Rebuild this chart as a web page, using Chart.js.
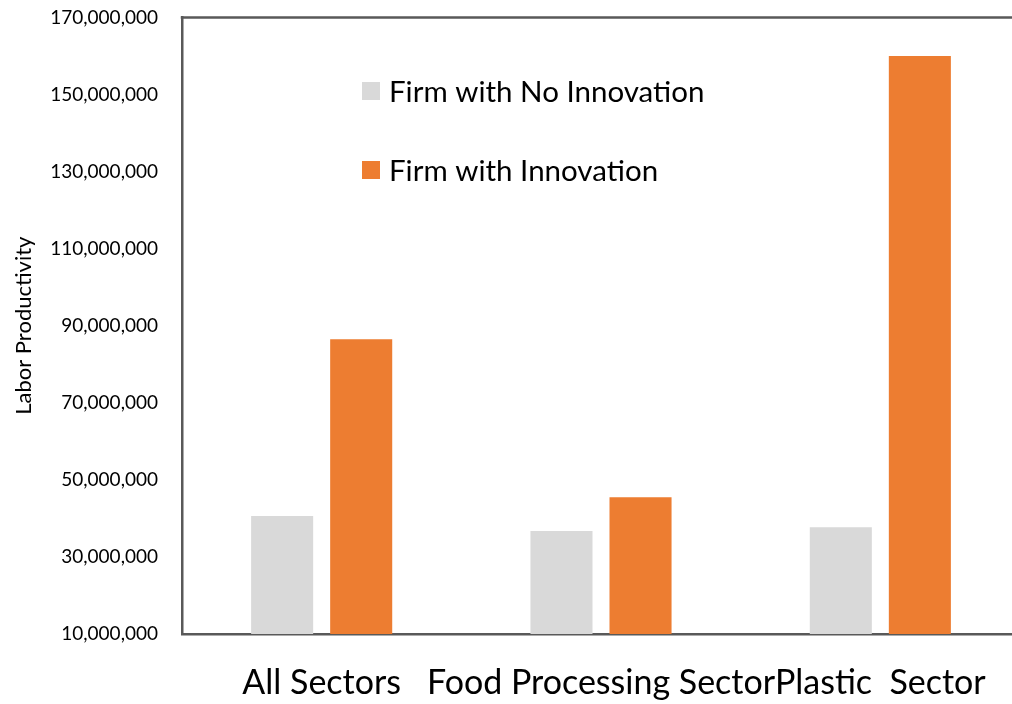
<!DOCTYPE html>
<html>
<head>
<meta charset="utf-8">
<title>Labor Productivity</title>
<script src="https://cdn.jsdelivr.net/npm/chart.js@4.4.1/dist/chart.umd.min.js"></script>
<style>
    html, body { margin: 0; padding: 0; background: #fff; overflow: hidden; }
    /* le canevas déborde un peu en haut et à droite */
    #wrap { width: 1020px; height: 722px; position: relative; top: -18px; }
</style>
</head>
<body>
<div id="wrap"><canvas id="myChart"></canvas></div>
<script>
// Données
var secteurs = ['All Sectors', 'Food Processing Sector', 'Plastic  Sector'];
var sansInnovation = [40600000, 36700000, 37700000];
var avecInnovation = [86500000, 45500000, 160000000];
var nomsSeries = ['Firm with No Innovation', 'Firm with Innovation'];
var yMin = 10000000, yMax = 170000000, yPas = 20000000;

var axeCouleur = '#595959';
var police = "Lato, 'Open Sans', sans-serif";

// Légende dessinée à l'intérieur de la zone du graphique
var legendeInterne = {
    id: 'legendeInterne',
    afterDraw: function(chart) {
        var ctx = chart.ctx;
        ctx.save();
        ctx.font = '29.5px ' + police;
        ctx.textBaseline = 'middle';
        chart.data.datasets.forEach(function(ds, i) {
            var y = 18 + 91 + i * 79;
            ctx.fillStyle = ds.backgroundColor;
            ctx.fillRect(362, y - 9, 18, 18);
            ctx.fillStyle = '#000';
            ctx.fillText(ds.label, 389, y + 1);
        });
        ctx.restore();
    }
};

// Ligne du haut du cadre
var ligneHaut = {
    id: 'ligneHaut',
    afterDraw: function(chart) {
        var ctx = chart.ctx, a = chart.chartArea;
        ctx.save();
        ctx.strokeStyle = axeCouleur;
        ctx.lineWidth = 2.5;
        ctx.beginPath();
        ctx.moveTo(a.left - 1.25, a.top);
        ctx.lineTo(chart.width, a.top);
        ctx.stroke();
        ctx.restore();
    }
};

var ctx = document.getElementById('myChart').getContext('2d');
var myChart = new Chart(ctx, {
    type: 'bar',
    data: {
        labels: secteurs,
        datasets: [{
            label: nomsSeries[0],
            data: sansInnovation,
            backgroundColor: '#d9d9d9'
        }, {
            label: nomsSeries[1],
            data: avecInnovation,
            backgroundColor: '#ed7d31'
        }]
    },
    options: {
        responsive: true,
        maintainAspectRatio: false,
        animation: false,
        layout: { padding: 0 },
        datasets: {
            bar: { categoryPercentage: 0.566, barPercentage: 0.785 }
        },
        plugins: {
            legend: { display: false },
            tooltip: { enabled: false }
        },
        scales: {
            x: {
                grid: { display: false, drawTicks: false },
                border: { color: axeCouleur, width: 2.5 },
                ticks: {
                    autoSkip: false,
                    maxRotation: 0,
                    minRotation: 0,
                    color: '#000',
                    padding: 29,
                    font: { family: police, size: 34 }
                },
                afterFit: function(axis) { axis.height = 70; }
            },
            y: {
                min: yMin,
                max: yMax,
                grid: { display: false, drawTicks: false },
                border: { color: axeCouleur, width: 2.5 },
                ticks: {
                    stepSize: yPas,
                    color: '#000',
                    padding: 24,
                    font: { family: police, size: 19 },
                    callback: function(v) { return v.toLocaleString('en-US'); }
                },
                title: {
                    display: true,
                    text: 'Labor Productivity',
                    color: '#000',
                    padding: { top: 11, bottom: 0 },
                    font: { family: police, size: 22 }
                },
                afterFit: function(axis) { axis.width = 182; }
            }
        }
    },
    plugins: [legendeInterne, ligneHaut]
});
</script>
</body>
</html>
